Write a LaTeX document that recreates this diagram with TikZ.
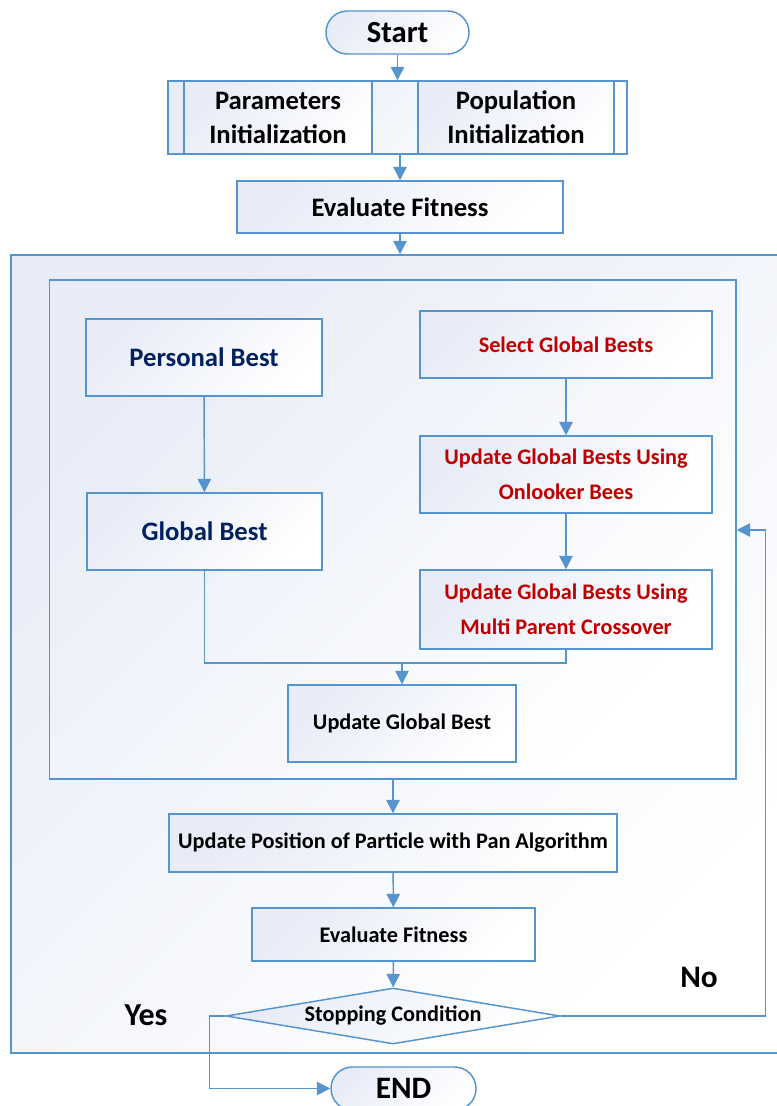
\documentclass[tikz,border=0pt]{standalone}
\usepackage{fontspec}
\setmainfont{Carlito}
\usetikzlibrary{shapes.geometric,arrows.meta}
\definecolor{lnc}{RGB}{86,148,206}
\definecolor{shc}{RGB}{231,236,247}
\definecolor{navy}{RGB}{0,32,96}
\definecolor{dred}{RGB}{192,0,0}
\newcommand{\myfs}[2]{\fontsize{#1}{#2}\selectfont}
\begin{document}
\begin{tikzpicture}[x=0.75pt,y=-0.75pt,
  shd/.style={top color=shc, bottom color=white, shading angle=45},
  sz/.style 2 args={minimum width=#1*0.75pt, minimum height=#2*0.75pt},
  box/.style={draw=lnc, line width=1.1pt, shd, inner sep=0pt, align=center},
  arr/.style={draw=lnc, line width=1.1pt, -{Triangle[width=10pt,length=10pt]}},
  ln/.style={draw=lnc, line width=1.1pt},
  big/.style={font=\bfseries\myfs{20}{25.5}},
  nav/.style={font=\bfseries\myfs{20}{26}, text=navy},
  sml/.style={font=\bfseries\myfs{16.7}{26}},
]
\useasboundingbox (0,0) rectangle (777,1106);
% containers
\node[box, sz={769}{798}] (loop) at (395.5,654) {};
\node[box, sz={686.5}{499}] (inner) at (392.75,529.5) {};
% top
\node[box, sz={143}{43}, rounded corners=16pt, font=\bfseries\myfs{23}{28}] (start) at (397.5,32.5) {Start};
\node[box, sz={459}{73}] (init) at (397.5,117.5) {};
\node[box, big, sz={188}{73}] (param) at (278,117.5) {Parameters\\Initialization};
\node[box, big, sz={196}{73}] (pop) at (516,117.5) {Population\\Initialization};
\node[box, big, sz={326}{52}] (eval1) at (400,207) {Evaluate Fitness};
% inner
\node[box, nav, sz={236}{77}] (pbest) at (204,357.5) {Personal Best};
\node[box, nav, sz={235}{77}] (gbest) at (204.5,531.5) {Global Best};
\node[box, sml, text=dred, sz={292}{67}] (sel) at (566,344.5) {Select Global Bests};
\node[box, sml, text=dred, sz={292}{77}] (onl) at (566,474.5) {Update Global Bests Using\\Onlooker Bees};
\node[box, sml, text=dred, sz={292}{79}] (mpc) at (566,609.5) {Update Global Bests Using\\Multi Parent Crossover};
\node[box, sml, sz={228}{77}] (ugb) at (402,723.5) {Update Global Best};
% lower
\node[box, sml, sz={448}{58}] (upos) at (393,843) {Update Position of Particle with Pan Algorithm};
\node[box, sml, sz={283}{53}] (eval2) at (393.5,934.5) {Evaluate Fitness};
\node[box, sml, diamond, aspect=6, sz={334}{56}] (cond) at (393,1016) {\raisebox{-3pt}{Stopping Condition}};
\node[box, sz={145}{43}, rounded corners=16pt, font=\bfseries\myfs{23.4}{28}] (end) at (403.5,1088.5) {END};
% labels
\node[font=\bfseries\myfs{24}{28}] (yes) at (146,1015) {Yes};
\node[font=\bfseries\myfs{23.5}{28}] (no) at (699,977) {No};
% connectors
\draw[arr] (start) -- (init);
\draw[arr] (eval1.north |- init.south) -- (eval1.north);
\draw[arr] (eval1.south) -- (eval1.south |- loop.north);
\draw[arr] (pbest) -- (gbest);
\draw[arr] (sel) -- (onl);
\draw[arr] (onl) -- (mpc);
\coordinate (j) at (402,663);
\draw[ln] (gbest.south) |- (j) -| (mpc.south);
\draw[arr] (j) -- (ugb.north);
\draw[arr] (upos.north |- inner.south) -- (upos.north);
\draw[arr] (upos) -- (eval2);
\draw[arr] (eval2) -- (cond);
\coordinate (nocorner) at (765.6,530);
\draw[arr] (cond.east) -| (nocorner) -- (nocorner -| inner.east);
\coordinate (yescorner) at (209.6,1016);
\draw[arr] (cond.west) -- (yescorner) |- (end.west);
\end{tikzpicture}
\end{document}
